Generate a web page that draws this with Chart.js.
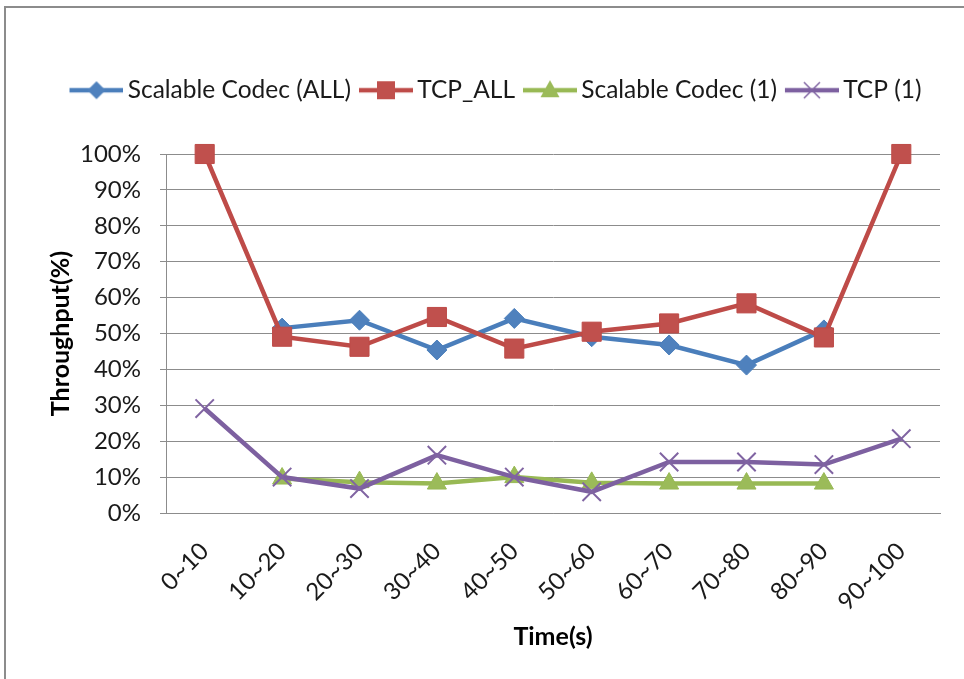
<!DOCTYPE html>
<html>
<head>
<meta charset="utf-8">
<script src="https://cdn.jsdelivr.net/npm/chart.js@4/dist/chart.umd.min.js"></script>
<style>
  body { margin: 0; background: #fff; }
  #wrap { position: relative; width: 964px; height: 679px; }
  #frame { position: absolute; left: 4px; top: 6px; right: 0; bottom: 0; border-top: 2px solid #8c8c8c; border-left: 2px solid #8c8c8c; pointer-events: none; }
</style>
</head>
<body>
<div id="wrap">
  <canvas id="myChart" width="964" height="679"></canvas>
  <div id="frame"></div>
</div>
<script>
var categories = ['0~10', '10~20', '20~30', '30~40', '40~50', '50~60', '60~70', '70~80', '80~90', '90~100'];
var scalableAll = [null, 51.5, 53.7, 45.4, 54.2, 49.1, 46.8, 41.2, 51, null];
var tcpAll = [100, 49.1, 46.3, 54.6, 45.8, 50.5, 52.8, 58.4, 48.9, 100];
var scalableOne = [null, 9.6, 8.6, 8.2, 10, 8.4, 8.2, 8.2, 8.2, null];
var tcpOne = [29.1, 10, 6.8, 16.1, 10, 5.9, 14.2, 14.2, 13.5, 20.7];
var yTickValues = [0, 10, 20, 30, 40, 50, 60, 70, 80, 90, 100];

// legend swatch: short line with the marker in the middle (like Excel)
function legendIcon(line, fill, shape) {
  var c = document.createElement('canvas');
  c.width = 56;
  c.height = 22;
  var g = c.getContext('2d');
  g.strokeStyle = line;
  g.lineWidth = 4.5;
  g.beginPath();
  g.moveTo(2, 11);
  g.lineTo(56, 11);
  g.stroke();
  var x = 29, y = 11;
  g.fillStyle = fill;
  g.beginPath();
  if (shape == 'diamond') {
    g.moveTo(x - 9, y); g.lineTo(x, y - 9); g.lineTo(x + 9, y); g.lineTo(x, y + 9);
    g.closePath(); g.fill();
  } else if (shape == 'square') {
    g.rect(x - 9, y - 9, 18, 18); g.fill();
  } else if (shape == 'triangle') {
    g.moveTo(x, y - 10); g.lineTo(x + 9.5, y + 7); g.lineTo(x - 9.5, y + 7);
    g.closePath(); g.fill();
  } else {
    g.strokeStyle = fill;
    g.lineWidth = 1.5;
    g.moveTo(x - 8, y - 8); g.lineTo(x + 8, y + 8);
    g.moveTo(x + 8, y - 8); g.lineTo(x - 8, y + 8);
    g.stroke();
  }
  return c;
}

var icons = [
  legendIcon('#4A7EBB', '#4F81BD', 'diamond'),
  legendIcon('#BE4B48', '#C0504D', 'square'),
  legendIcon('#98B954', '#9BBB59', 'triangle'),
  legendIcon('#7D60A0', '#8064A2', 'x')
];

// make room above the plot for the legend
var legendSpace = {
  id: 'legendSpace',
  beforeInit: function(chart) {
    var fit = chart.legend.fit;
    chart.legend.fit = function() {
      fit.call(this);
      this.height = 90;
    };
  }
};

const ctx = document.getElementById('myChart');
new Chart(ctx, {
  type: 'line',
  data: {
    labels: categories,
    datasets: [{
      label: 'Scalable Codec (ALL)',
      data: scalableAll,
      borderColor: '#4A7EBB',
      backgroundColor: '#4F81BD',
      pointBorderColor: '#4A7EBB',
      pointStyle: 'rectRot',
      pointRadius: 10,
      pointBorderWidth: 1,
      borderWidth: 4.5,
      clip: false,
      order: 4
    }, {
      label: 'TCP_ALL',
      data: tcpAll,
      borderColor: '#BE4B48',
      backgroundColor: '#C0504D',
      pointBorderColor: '#BE4B48',
      pointStyle: 'rect',
      pointRadius: 13.5,
      pointBorderWidth: 1,
      borderWidth: 4.5,
      clip: false,
      order: 3
    }, {
      label: 'Scalable Codec (1)',
      data: scalableOne,
      borderColor: '#98B954',
      backgroundColor: '#9BBB59',
      pointBorderColor: '#98B954',
      pointStyle: 'triangle',
      pointRadius: 11,
      pointBorderWidth: 1,
      borderWidth: 4.5,
      clip: false,
      order: 2
    }, {
      label: 'TCP (1)',
      data: tcpOne,
      borderColor: '#7D60A0',
      backgroundColor: '#8064A2',
      pointBorderColor: '#8064A2',
      pointStyle: 'crossRot',
      pointRadius: 13,
      pointBorderWidth: 2,
      borderWidth: 4.5,
      clip: false,
      order: 1
    }]
  },
  options: {
    responsive: false,
    animation: false,
    devicePixelRatio: 1,
    layout: {
      padding: { left: 36, right: 3, top: 64, bottom: 20 }
    },
    plugins: {
      tooltip: { enabled: false },
      legend: {
        position: 'top',
        labels: {
          usePointStyle: true,
          pointStyleWidth: 40,
          padding: 14,
          color: '#1a1a1a',
          font: { family: 'Lato', size: 24.5 },
          generateLabels: function(chart) {
            return chart.data.datasets.map(function(ds, i) {
              return {
                text: ds.label,
                pointStyle: icons[i],
                fillStyle: ds.backgroundColor,
                strokeStyle: ds.borderColor,
                lineWidth: 0,
                hidden: false,
                datasetIndex: i,
                fontColor: '#1a1a1a'
              };
            });
          }
        }
      }
    },
    scales: {
      x: {
        offset: true,
        grid: { display: false, drawTicks: false },
        border: { display: true, color: '#8c8c8c', width: 1 },
        ticks: {
          color: '#1a1a1a',
          font: { family: 'Lato', size: 24 },
          maxRotation: 45,
          minRotation: 45,
          autoSkip: false,
          padding: 24
        },
        title: {
          display: true,
          text: 'Time(s)',
          color: '#000',
          font: { family: 'Lato', size: 25, weight: 'bold' },
          padding: { top: 0, bottom: 7 }
        },
        afterFit: function(scale) { scale.height = 146; }
      },
      y: {
        min: 0,
        max: 100,
        afterBuildTicks: function(scale) {
          scale.ticks = yTickValues.map(function(v) { return { value: v }; });
        },
        ticks: {
          color: '#1a1a1a',
          font: { family: 'Lato', size: 24 },
          padding: 19,
          callback: function(v) { return v + '%'; }
        },
        grid: { color: '#8c8c8c', lineWidth: 1, tickLength: 6 },
        border: { display: true, color: '#8c8c8c', width: 1 },
        title: {
          display: true,
          text: 'Throughput(%)',
          color: '#000',
          font: { family: 'Lato', size: 25, weight: 'bold' },
          padding: { top: 10, bottom: 0 }
        },
        afterFit: function(scale) { scale.width = 130; }
      },
      // empty right-hand axis, only keeps the white margin right of the plot
      yRight: {
        position: 'right',
        min: 0,
        max: 100,
        display: true,
        ticks: { display: false },
        grid: { display: false, drawTicks: false },
        border: { display: false },
        afterFit: function(scale) { scale.width = 21; }
      }
    }
  },
  plugins: [legendSpace]
});
</script>
</body>
</html>
